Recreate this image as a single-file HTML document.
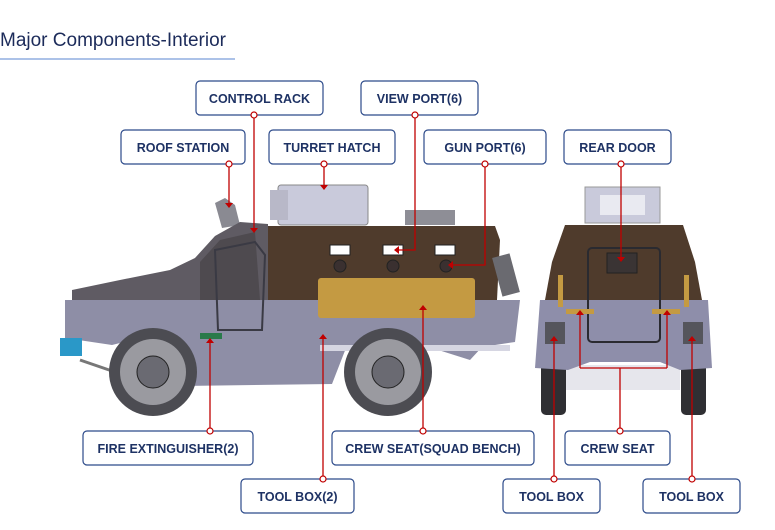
<!DOCTYPE html>
<html><head><meta charset="utf-8"><style>
body{margin:0;background:#fff;width:775px;height:530px;overflow:hidden;font-family:"Liberation Sans",sans-serif}
</style></head><body>
<svg width="775" height="530" viewBox="0 0 775 530" xmlns="http://www.w3.org/2000/svg" style="position:absolute;left:0;top:0">
<text x="0" y="46" font-family="Liberation Sans, sans-serif" font-size="19" fill="#1c2b5a">Major Components-Interior</text>
<line x1="0" y1="59" x2="235" y2="59" stroke="#5a84d0" stroke-width="1"/>

<!-- SIDE VEHICLE -->
<g>
<rect x="278" y="185" width="90" height="40" rx="3" fill="#c9cadb" stroke="#888" stroke-width="1"/>
<rect x="270" y="190" width="18" height="30" fill="#b8b8c8"/>
<rect x="405" y="210" width="50" height="15" fill="#8e8e96"/>
<polygon points="215,203 225,198 235,205 240,225 222,228" fill="#8a8a92"/>
<polygon points="268,226 495,226 500,240 497,300 268,300" fill="#4f3b2c"/>
<polygon points="72,290 120,280 170,270 195,258 215,236 240,222 268,224 268,300 72,300" fill="#5f5b63"/>
<polygon points="200,262 220,240 255,232 260,300 200,300" fill="#4e4a4f"/>
<polygon points="65,300 520,300 515,342 482,347 470,360 432,348 346,348 332,384 182,386 175,352 140,338 112,345 65,338" fill="#8e8ea6"/>
<polygon points="215,250 255,242 265,255 262,330 218,330" fill="none" stroke="#3a3a44" stroke-width="2"/>
<rect x="320" y="345" width="190" height="6" fill="#d6d6e2"/>
<rect x="497" y="255" width="18" height="40" fill="#6a6a70" transform="rotate(-15 506 275)"/>
<rect x="318" y="278" width="157" height="40" rx="3" fill="#c49a42"/>
<rect x="330" y="245" width="20" height="10" fill="#fff" stroke="#222"/>
<rect x="383" y="245" width="20" height="10" fill="#fff" stroke="#222"/>
<rect x="435" y="245" width="20" height="10" fill="#fff" stroke="#222"/>
<circle cx="340" cy="266" r="6" fill="#3a3030" stroke="#222"/>
<circle cx="393" cy="266" r="6" fill="#3a3030" stroke="#222"/>
<circle cx="446" cy="266" r="6" fill="#3a3030" stroke="#222"/>
<rect x="200" y="333" width="22" height="6" fill="#2a7a4a"/>
<rect x="60" y="338" width="22" height="18" fill="#2a98c8"/>
<line x1="80" y1="360" x2="115" y2="372" stroke="#777" stroke-width="3"/>
<circle cx="153" cy="372" r="44" fill="#4c4c52"/>
<circle cx="153" cy="372" r="33" fill="#9a9aa0"/>
<circle cx="153" cy="372" r="16" fill="#6a6a72" stroke="#222"/>
<circle cx="388" cy="372" r="44" fill="#4c4c52"/>
<circle cx="388" cy="372" r="33" fill="#9a9aa0"/>
<circle cx="388" cy="372" r="16" fill="#6a6a72" stroke="#222"/>
</g>

<!-- REAR VEHICLE -->
<g>
<rect x="585" y="187" width="75" height="36" fill="#c9cadb" stroke="#999"/>
<rect x="600" y="195" width="45" height="20" fill="#fff" opacity=".6"/>
<rect x="565" y="365" width="115" height="25" fill="#e6e6ec"/>
<rect x="541" y="350" width="25" height="65" rx="5" fill="#2f2f33"/>
<rect x="681" y="350" width="25" height="65" rx="5" fill="#2f2f33"/>
<polygon points="565,225 683,225 695,262 702,300 545,300 552,262" fill="#4f3b2c"/>
<polygon points="540,300 708,300 712,368 680,370 660,362 590,362 568,370 535,368" fill="#8e8eaa"/>
<rect x="588" y="248" width="72" height="94" rx="4" fill="none" stroke="#2a2a30" stroke-width="2"/>
<rect x="607" y="253" width="30" height="20" fill="#3a3434" stroke="#222"/>
<rect x="558" y="275" width="5" height="32" fill="#c49a42"/>
<rect x="684" y="275" width="5" height="32" fill="#c49a42"/>
<rect x="566" y="309" width="28" height="5" fill="#c49a42"/>
<rect x="652" y="309" width="28" height="5" fill="#c49a42"/>
<rect x="545" y="322" width="20" height="22" fill="#55555c"/>
<rect x="683" y="322" width="20" height="22" fill="#55555c"/>
</g>

<!-- CONNECTORS -->
<g stroke="#c00000" stroke-width="1.3" fill="none">
<path d="M229 164V206"/><path d="M254 115V231"/><path d="M324 164V188"/>
<path d="M415 115V250H396"/><path d="M485 164V265H450"/><path d="M621 164V260"/>
<path d="M210 431V340"/><path d="M323 479V336"/><path d="M423 431V307"/>
<path d="M620 431V368M580 368H667M580 368V312M667 368V312"/>
<path d="M554 479V338"/><path d="M692 479V338"/>
</g>
<g fill="#c00000">
<path d="M225 203h8l-4 5z"/><path d="M250 228h8l-4 5z"/><path d="M320 185h8l-4 5z"/>
<path d="M399 246v8l-5-4z"/><path d="M453 261v8l-5-4z"/><path d="M617 257h8l-4 5z"/>
<path d="M206 343h8l-4-5z"/><path d="M319 339h8l-4-5z"/><path d="M419 310h8l-4-5z"/>
<path d="M576 315h8l-4-5z"/><path d="M663 315h8l-4-5z"/>
<path d="M550 341h8l-4-5z"/><path d="M688 341h8l-4-5z"/>
</g>

<!-- LABEL BOXES -->
<g fill="#fff" stroke="#2c4a8a" stroke-width="1.2">
<rect x="196" y="81" width="127" height="34" rx="4"/>
<rect x="361" y="81" width="117" height="34" rx="4"/>
<rect x="121" y="130" width="124" height="34" rx="4"/>
<rect x="269" y="130" width="126" height="34" rx="4"/>
<rect x="424" y="130" width="122" height="34" rx="4"/>
<rect x="564" y="130" width="107" height="34" rx="4"/>
<rect x="83" y="431" width="170" height="34" rx="4"/>
<rect x="332" y="431" width="202" height="34" rx="4"/>
<rect x="241" y="479" width="113" height="34" rx="4"/>
<rect x="565" y="431" width="105" height="34" rx="4"/>
<rect x="503" y="479" width="97" height="34" rx="4"/>
<rect x="643" y="479" width="97" height="34" rx="4"/>
</g>
<g fill="#fff" stroke="#c00000" stroke-width="1.2">
<circle cx="254" cy="115" r="3"/><circle cx="415" cy="115" r="3"/><circle cx="229" cy="164" r="3"/>
<circle cx="324" cy="164" r="3"/><circle cx="485" cy="164" r="3"/><circle cx="621" cy="164" r="3"/>
<circle cx="210" cy="431" r="3"/><circle cx="423" cy="431" r="3"/><circle cx="323" cy="479" r="3"/>
<circle cx="620" cy="431" r="3"/><circle cx="554" cy="479" r="3"/><circle cx="692" cy="479" r="3"/>
</g>
<g font-family="Liberation Sans, sans-serif" font-size="12.5" font-weight="bold" fill="#1e3264" text-anchor="middle">
<text x="259.5" y="103">CONTROL RACK</text>
<text x="419.5" y="103">VIEW PORT(6)</text>
<text x="183" y="152">ROOF STATION</text>
<text x="332" y="152">TURRET HATCH</text>
<text x="485" y="152">GUN PORT(6)</text>
<text x="617.5" y="152">REAR DOOR</text>
<text x="168" y="453">FIRE EXTINGUISHER(2)</text>
<text x="433" y="453">CREW SEAT(SQUAD BENCH)</text>
<text x="297.5" y="501">TOOL BOX(2)</text>
<text x="617.5" y="453">CREW SEAT</text>
<text x="551.5" y="501">TOOL BOX</text>
<text x="691.5" y="501">TOOL BOX</text>
</g>
</svg>
</body></html>
